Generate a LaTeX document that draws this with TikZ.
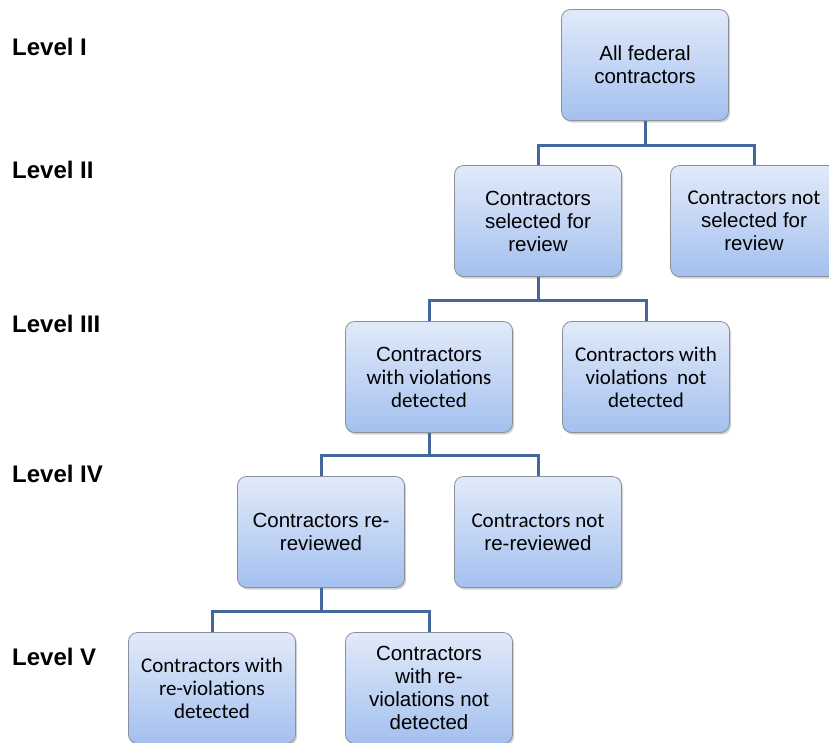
\documentclass[tikz,border=0pt]{standalone}
\usepackage{fontspec}
\setmainfont{Liberation Sans}
\newfontfamily\calfont{Carlito}
\usetikzlibrary{shadows}
\definecolor{topc}{HTML}{E1EAF9}
\definecolor{botc}{HTML}{A4C0EF}
\definecolor{edgec}{HTML}{8A8F99}
\definecolor{linkc}{HTML}{44689C}
\tikzset{
 box/.style={draw=edgec, line width=0.8pt, rounded corners=9pt, top color=topc, bottom color=botc,
   minimum width=167pt, minimum height=111pt, align=center, inner sep=0pt,
   font=\fontsize{20.5}{23}\selectfont,
   drop shadow={shadow xshift=1.5pt, shadow yshift=-2pt, opacity=0.35, fill=gray}},
 calbox/.style={box, font=\calfont\fontsize{21}{23}\selectfont},
 lvl/.style={anchor=west, font=\fontsize{24}{28}\selectfont\bfseries, inner sep=0pt},
 conn/.style={draw=linkc, line width=3pt}
}
\begin{document}
\begin{tikzpicture}[x=1pt,y=-1pt]
\useasboundingbox[fill=white] (0,0) rectangle (829,742);
% level labels
\node[lvl] (l1) at (12,47) {Level I};
\node[lvl] (l2) at (12,170) {Level II};
\node[lvl] (l3) at (12,324) {Level III};
\node[lvl] (l4) at (12,474) {Level IV};
\node[lvl] (l5) at (12,657) {Level V};
% junction coordinates
\coordinate (jA) at (645,145);
\coordinate (jB) at (538,300);
\coordinate (jD) at (429,455);
\coordinate (jF) at (321,611);
% boxes
\node[box] (A) at (645,65) {All federal\\contractors};
\node[box] (B) at (538,221) {Contractors\\selected for\\review};
\node[box] (C) at (754,221) {{\calfont\fontsize{21}{23}\selectfont Contractors not}\\selected for\\review};
\node[box] (D) at (429,377) {Contractors\\{\calfont\fontsize{21}{23}\selectfont with violations}\\{\calfont\fontsize{21}{23}\selectfont detected}};
\node[calbox] (E) at (646,377) {Contractors with\\violations\ \ not\\detected};
\node[box] (F) at (321,532) {Contractors re-\\reviewed};
\node[box] (G) at (538,532) {{\calfont\fontsize{21}{23}\selectfont Contractors not}\\re-reviewed};
\node[calbox] (H) at (212,688) {Contractors with\\re-violations\\detected};
\node[box] (I) at (429,688) {Contractors\\with re-\\violations not\\detected};
% connectors
\draw[conn] (A.south) -- (A.south |- jA);
\draw[conn] (B.north) -- (B.north |- jA) -- (C.north |- jA) -- (C.north);
\draw[conn] (B.south) -- (B.south |- jB);
\draw[conn] (D.north) -- (D.north |- jB) -- (E.north |- jB) -- (E.north);
\draw[conn] (D.south) -- (D.south |- jD);
\draw[conn] (F.north) -- (F.north |- jD) -- (G.north |- jD) -- (G.north);
\draw[conn] (F.south) -- (F.south |- jF);
\draw[conn] (H.north) -- (H.north |- jF) -- (I.north |- jF) -- (I.north);
\end{tikzpicture}
\end{document}
